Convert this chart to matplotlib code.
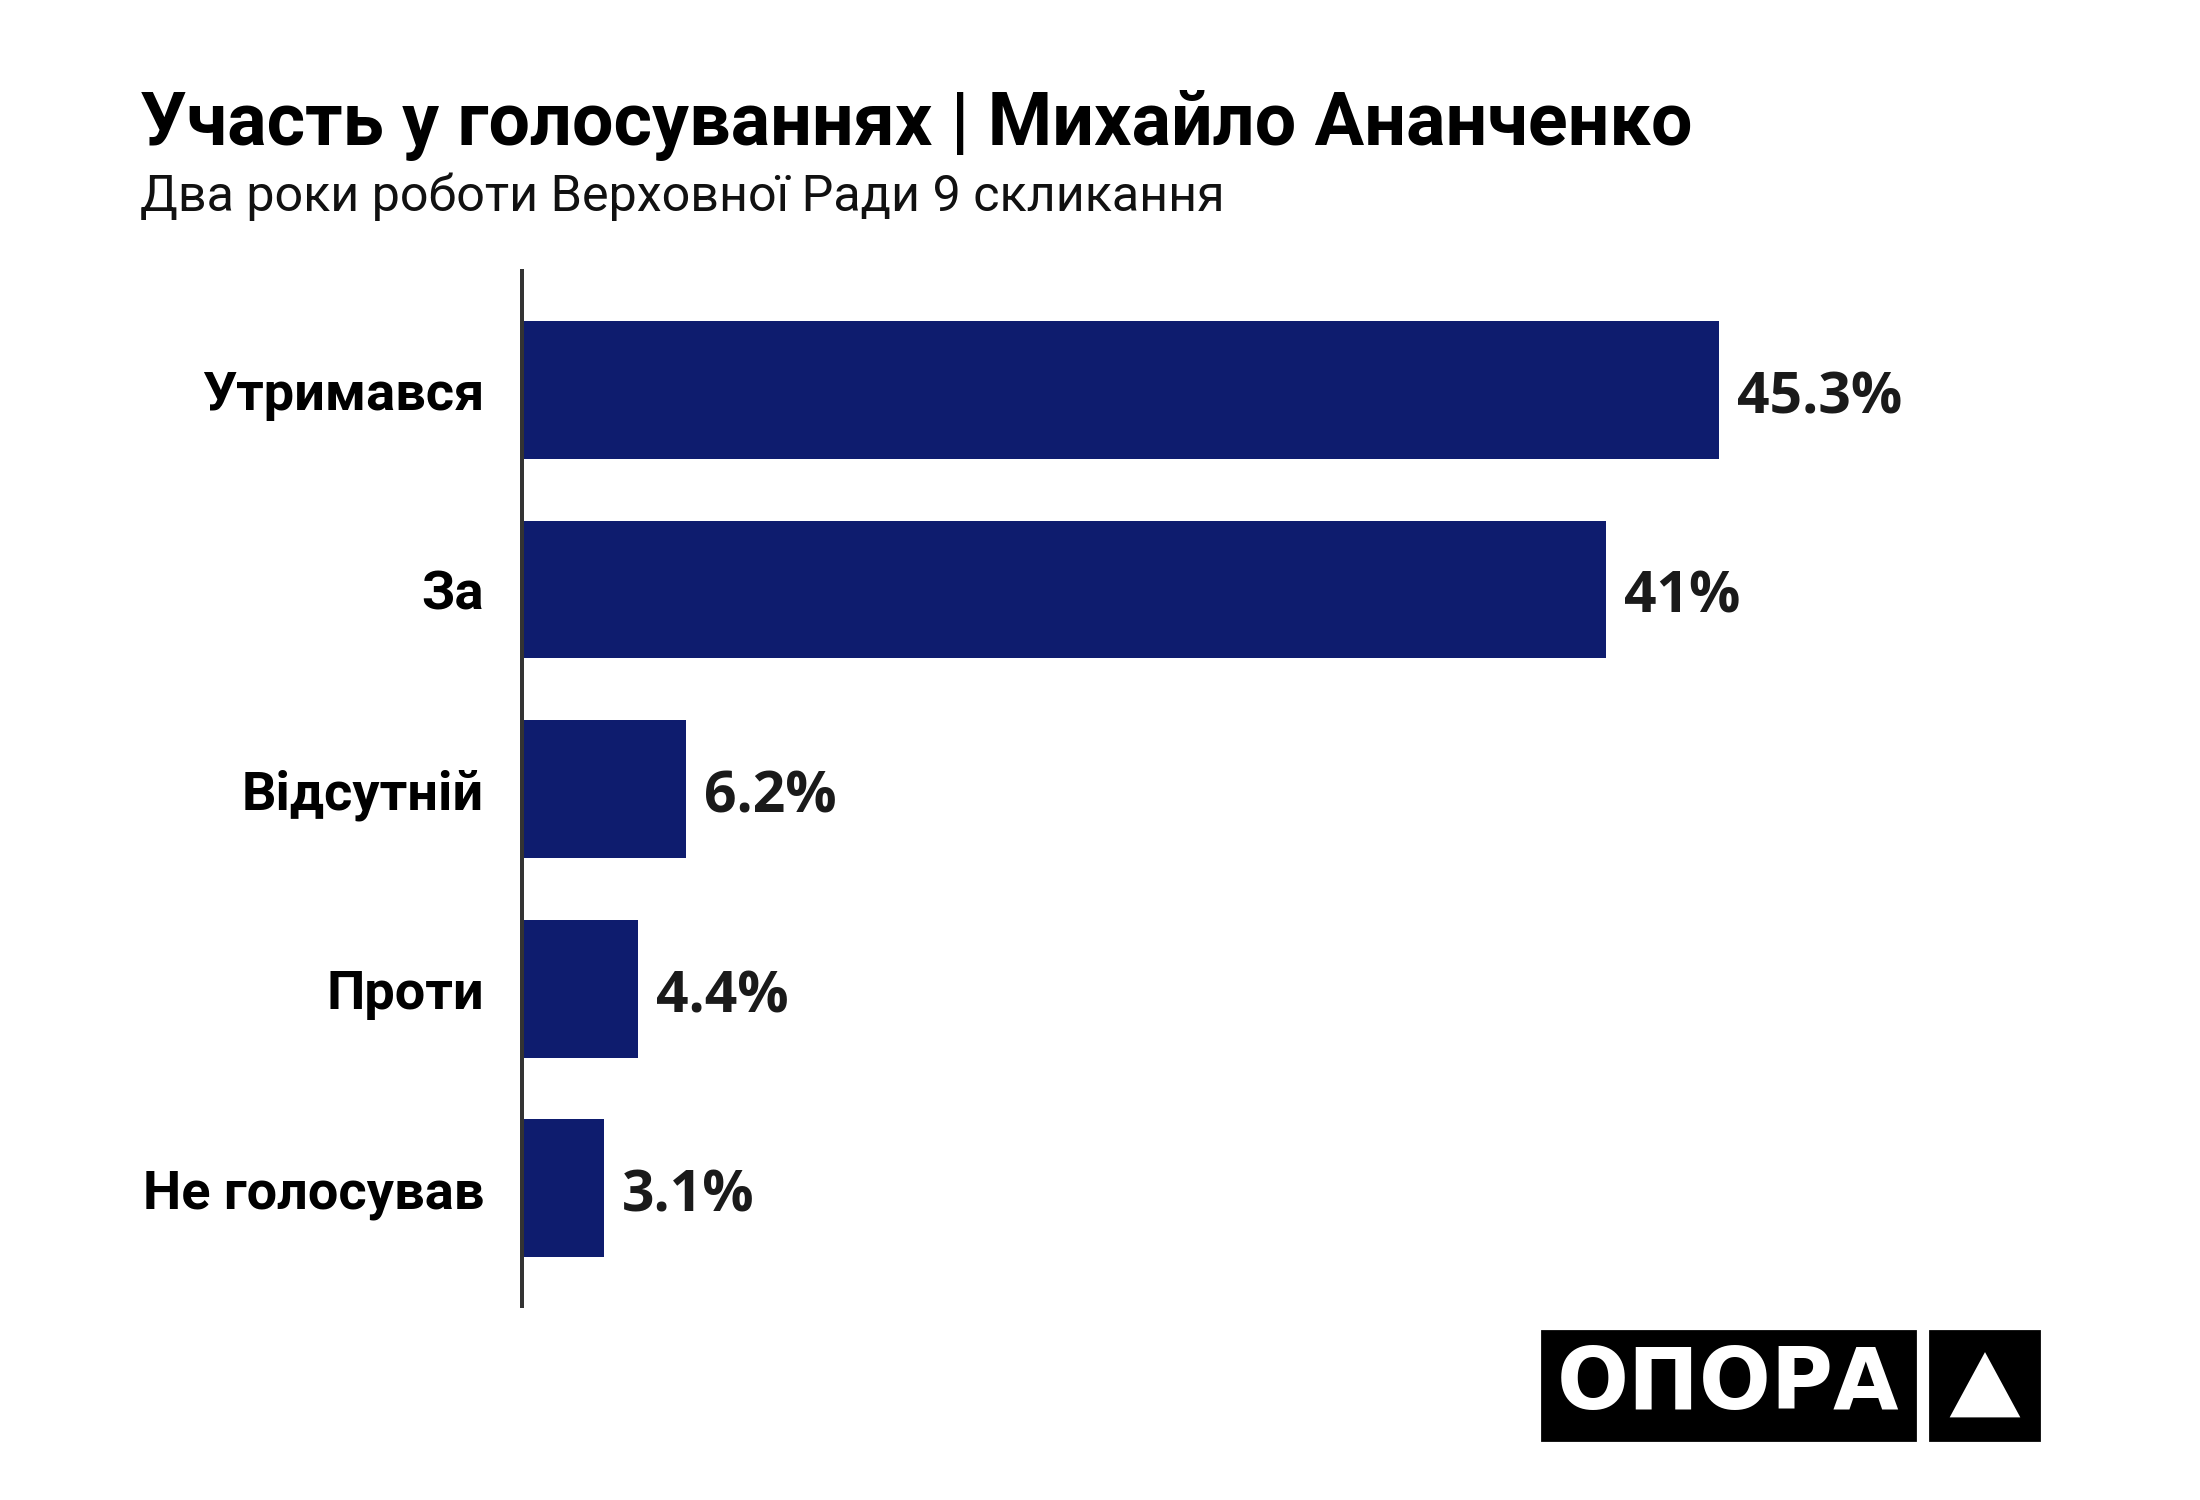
import matplotlib.pyplot as plt
from matplotlib.patches import Rectangle, Polygon


CATEGORIES = ["Утримався", "За", "Відсутній", "Проти", "Не голосував"]
VALUES = [45.3, 41, 6.2, 4.4, 3.1]

TITLE = "Участь у голосуваннях | Михайло Ананченко"
SUBTITLE = "Два роки роботи Верховної Ради 9 скликання"

BAR_COLOR = "#0e1c6e"
FONT = ["Open Sans", "DejaVu Sans"]
LABEL_FONT = ["Roboto", "DejaVu Sans"]


def draw_logo(fig) -> None:
    """Black OPORA badge in the lower right corner."""
    W, H = 2200, 1500
    fig.patches.append(Rectangle((1542 / W, 1 - 1440 / H), 373 / W, 109 / H,
                                 transform=fig.transFigure, color="black"))
    fig.patches.append(Rectangle((1930 / W, 1 - 1440 / H), 109 / W, 109 / H,
                                 transform=fig.transFigure, color="black"))
    fig.text((1542 + 373 / 2) / W, 1 - 1386 / H, "ОПОРА", color="white",
             fontsize=30.5, fontweight="bold", family=["DejaVu Sans"],
             ha="center", va="center")
    tri = [(1985 / W, 1 - 1355 / H), (1952 / W, 1 - 1416 / H),
           (2018 / W, 1 - 1416 / H)]
    fig.patches.append(Polygon(tri, closed=True, transform=fig.transFigure,
                               color="white"))


def main() -> None:
    fig = plt.figure(figsize=(11, 7.5), dpi=200)
    fig.patch.set_facecolor("white")

    ax = fig.add_axes([0.2373, 0.1293, 0.6007, 0.69])
    pos = list(range(len(CATEGORIES)))
    ax.barh(pos, VALUES, height=0.69, color=BAR_COLOR)

    ax.set_xlim(0, 50)
    ax.set_ylim(len(CATEGORIES) - 1 + 0.59, -0.596)

    for p, v in zip(pos, VALUES):
        ax.annotate(f"{v:g}%", (v, p), xytext=(6.5, -3),
                    textcoords="offset points", ha="left", va="center",
                    fontsize=20.5, fontweight="bold", color="#1a1a1a",
                    family=FONT)

    ax.set_yticks(pos)
    ax.set_yticklabels(CATEGORIES, fontsize=19.5, fontweight="bold",
                       family=LABEL_FONT, color="black")
    ax.tick_params(axis="y", length=0, pad=13.7)
    ax.set_xticks([])

    for side in ["top", "right", "bottom"]:
        ax.spines[side].set_visible(False)
    ax.spines["left"].set_color("#333333")
    ax.spines["left"].set_linewidth(1.44)

    fig.text(140 / 2200, 1 - 145 / 1500, TITLE, fontsize=26.5,
             fontweight="bold", family=LABEL_FONT, color="black",
             va="baseline")
    fig.text(140 / 2200, 1 - 211 / 1500, SUBTITLE, fontsize=18.1,
             family=LABEL_FONT, color="#111111", va="baseline")

    draw_logo(fig)

    fig.savefig("out.png", dpi=200, facecolor="white")


if __name__ == "__main__":
    main()
